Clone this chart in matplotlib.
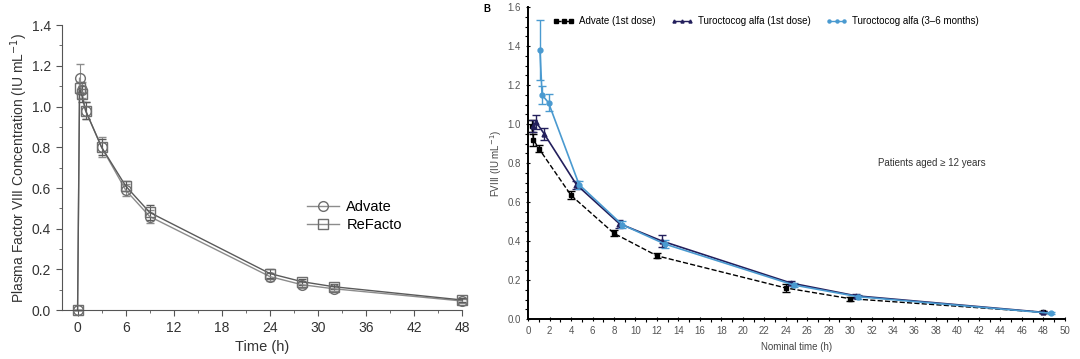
import numpy as np
import matplotlib
matplotlib.use("Agg")
import matplotlib.pyplot as plt
from matplotlib.ticker import MultipleLocator
from matplotlib.lines import Line2D

plt.rcParams['font.family'] = ['Liberation Sans', 'DejaVu Sans']

# ---- panel A: Advate vs ReFacto
time_a = [0, 0.25, 0.5, 1, 3, 6, 9, 24, 28, 32, 48]
advate_a = [0.0, 1.14, 1.08, 0.98, 0.80, 0.59, 0.46, 0.165, 0.125, 0.105, 0.045]
advate_a_err = [0.0, 0.07, 0.04, 0.04, 0.05, 0.03, 0.03, 0.02, 0.015, 0.012, 0.01]
refacto_a = [0.0, 1.09, 1.06, 0.98, 0.80, 0.61, 0.48, 0.18, 0.14, 0.115, 0.05]
refacto_a_err = [0.0, 0.03, 0.04, 0.04, 0.04, 0.025, 0.035, 0.02, 0.015, 0.012, 0.01]

# ---- panel B: Advate vs turoctocog alfa
time_adv = [0.35, 0.5, 1.0, 4, 8, 12, 24, 30, 48]
adv_b = [0.99, 0.92, 0.875, 0.635, 0.44, 0.325, 0.16, 0.105, 0.035]
adv_b_err = [0.03, 0.03, 0.02, 0.02, 0.015, 0.012, 0.02, 0.01, 0.005]
time_t1 = [0.5, 0.75, 1.5, 4.5, 8.5, 12.5, 24.5, 30.5, 48]
turo1_b = [0.99, 1.01, 0.95, 0.69, 0.49, 0.40, 0.185, 0.12, 0.035]
turo1_b_err = [0.03, 0.035, 0.03, 0.02, 0.02, 0.03, 0.01, 0.01, 0.005]
time_t2 = [1.1, 1.3, 1.9, 4.75, 8.75, 12.75, 24.75, 30.75, 48.75]
turo2_b = [1.38, 1.15, 1.11, 0.69, 0.485, 0.385, 0.175, 0.115, 0.03]
turo2_b_err = [0.155, 0.045, 0.045, 0.02, 0.02, 0.02, 0.01, 0.01, 0.005]

fig = plt.figure(figsize=(10.8, 3.59), dpi=100)

# ---------------- left panel
ax1 = fig.add_axes([0.057, 0.136, 0.371, 0.794])
grey = '#6e6e6e'
styles_a = [('Advate', advate_a, advate_a_err, 'o', '#8c8c8c', 7),
            ('ReFacto', refacto_a, refacto_a_err, 's', '#5a5a5a', 6.5)]
handles_a = []
for name, vals, err, mk, col, ms in styles_a:
    ax1.errorbar(time_a, vals, yerr=err, color=col, marker=mk, mfc='none', mec=grey, ms=ms,
                 lw=1.0, capsize=3, elinewidth=0.8, clip_on=False)
    handles_a.append(Line2D([], [], color='#8c8c8c', marker=mk, mfc='none', mec=grey, ms=ms, lw=1.0))
ax1.set_xlim(-2, 48)
ax1.set_ylim(0, 1.4)
ax1.set_xticks(np.arange(0, 49, 6))
ax1.set_yticks(np.arange(0, 1.41, 0.2))
ax1.yaxis.set_major_formatter(matplotlib.ticker.FormatStrFormatter('%.1f'))
ax1.xaxis.set_minor_locator(MultipleLocator(3))
ax1.yaxis.set_minor_locator(MultipleLocator(0.1))
for s in ['top', 'right']:
    ax1.spines[s].set_visible(False)
for s in ['left', 'bottom']:
    ax1.spines[s].set_color('#555555')
ax1.tick_params(which='both', colors='#555555', labelcolor='#333333', labelsize=10)
ax1.tick_params(which='major', length=4)
ax1.tick_params(which='minor', length=2)
ax1.set_xlabel('Time (h)', fontsize=10.5, color='#333333')
ax1.set_ylabel('Plasma Factor VIII Concentration (IU mL$^{-1}$)', fontsize=10, color='#333333',
               labelpad=1)
ax1.legend(handles_a, ['Advate', 'ReFacto'], loc='center left', bbox_to_anchor=(0.58, 0.33),
           frameon=False, fontsize=10.5, handlelength=2.2, labelspacing=0.3, handletextpad=0.5)

# ---------------- right panel
ax2 = fig.add_axes([0.489, 0.111, 0.497, 0.869])
series_b = [('Advate (1st dose)', time_adv, adv_b, adv_b_err, 'black', '--', 's'),
            ('Turoctocog alfa (1st dose)', time_t1, turo1_b, turo1_b_err, '#231f5c', '-', '^'),
            ('Turoctocog alfa (3\u20136 months)', time_t2, turo2_b, turo2_b_err, '#4a9ad0', '-', 'o')]
handles_b = []
for name, tt, vals, err, col, ls, mk in series_b:
    ax2.errorbar(tt, vals, yerr=err, color=col, ls=ls, marker=mk, ms=3.5, lw=1.2 if ls == '-' else 1.0,
                 capsize=3, elinewidth=1.0, clip_on=False)
    handles_b.append(Line2D([], [], color=col, ls=ls, marker=mk, ms=2.2, lw=1.0))
ax2.set_xlim(0, 50)
ax2.set_ylim(0, 1.6)
ax2.set_xticks(np.arange(0, 51, 2))
ax2.set_yticks(np.arange(0, 1.61, 0.2))
ax2.yaxis.set_major_formatter(matplotlib.ticker.FormatStrFormatter('%.1f'))
ax2.xaxis.set_minor_locator(MultipleLocator(1))
ax2.yaxis.set_minor_locator(MultipleLocator(0.05))
for s in ['top', 'right']:
    ax2.spines[s].set_visible(False)
for s in ['left', 'bottom']:
    ax2.spines[s].set_linewidth(1.4)
ax2.tick_params(which='both', labelsize=7, labelcolor='#555555', width=0.8)
ax2.tick_params(which='major', length=3, direction='inout')
ax2.tick_params(which='minor', length=2)
ax2.set_xlabel('Nominal time (h)', fontsize=7, color='#444444')
ax2.set_ylabel('FVIII (IU mL$^{-1}$)', fontsize=7, color='#444444', labelpad=3)
ax2.legend(handles_b, [s[0] for s in series_b], loc='upper left', bbox_to_anchor=(0.03, 1.0),
           ncol=3, frameon=False, fontsize=7, numpoints=3, handlelength=2.2, columnspacing=1.6,
           handletextpad=0.5)
ax2.text(0.752, 0.5, 'Patients aged \u2265 12 years', transform=ax2.transAxes, fontsize=7,
         color='#333333', ha='center', va='center')
fig.text(0.448, 0.974, 'B', fontsize=7, fontweight='bold', ha='left', va='center')

fig.savefig('out.png', dpi=100)
